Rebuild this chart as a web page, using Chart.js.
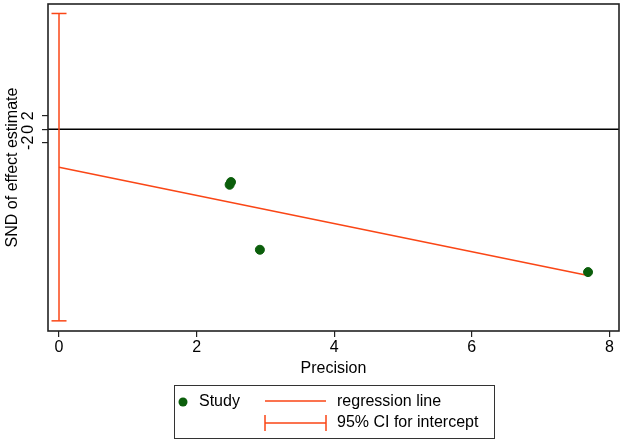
<!DOCTYPE html>
<html>
<head>
<meta charset="utf-8">
<script src="https://cdn.jsdelivr.net/npm/chart.js@4.4.1/dist/chart.umd.min.js"></script>
<style>
  html, body { margin: 0; padding: 0; background: #fff; }
  #wrap { width: 624px; height: 443px; }
</style>
</head>
<body>
<div id="wrap"><canvas id="galbraith"></canvas></div>
<script>
// values
const studyPrecision = [2.48, 2.50, 2.92, 7.69];
const studySND = [-8.2, -7.8, -17.8, -21.1];
const regLineX = [0, 7.69];
const regLineY = [-5.6, -21.6];
const ciIntercept = [-28.3, 17.1];
const xTicks = [0, 2, 4, 6, 8];
const yTicks = [-2, 0, 2];
const xRange = [-0.16, 8.14];
const yRange = [-29.8, 18.5];

const RED = "#fa4616";
const GREEN = "#0b5e0b";
const FONT = "'Liberation Sans', Arial, sans-serif";

const framePlugin = {
  id: "frameAndLegend",
  afterDraw(c) {
    const ctx = c.ctx;
    const a = c.chartArea;
    ctx.save();
    ctx.strokeStyle = "#222";
    ctx.lineWidth = 1.6;
    ctx.strokeRect(a.left, a.top, a.right - a.left, a.bottom - a.top);

    // legend box
    ctx.lineWidth = 1;
    ctx.strokeStyle = "#333";
    ctx.strokeRect(174.5, 385.5, 320, 53);
    ctx.font = "16px " + FONT;
    ctx.fillStyle = "#000";
    ctx.textBaseline = "middle";
    ctx.fillText("Study", 199, 402);
    ctx.fillText("regression line", 337, 402);
    ctx.fillText("95% CI for intercept", 337, 423);
    ctx.fillStyle = GREEN;
    ctx.beginPath();
    ctx.arc(183, 402, 4.5, 0, Math.PI * 2);
    ctx.fill();
    ctx.strokeStyle = RED;
    ctx.lineWidth = 1.5;
    ctx.beginPath();
    ctx.moveTo(265, 401); ctx.lineTo(326, 401);
    ctx.moveTo(265, 423); ctx.lineTo(326, 423);
    ctx.moveTo(265, 415); ctx.lineTo(265, 431);
    ctx.moveTo(326, 415); ctx.lineTo(326, 431);
    ctx.stroke();
    ctx.restore();
  }
};

new Chart(document.getElementById("galbraith"), {
  type: "scatter",
  data: {
    datasets: [
      {
        label: "Study",
        data: studyPrecision.map((x, i) => ({ x: x, y: studySND[i] })),
        backgroundColor: GREEN,
        borderColor: GREEN,
        pointRadius: 4.5,
        order: 0
      },
      {
        label: "95% CI for intercept",
        data: ciIntercept.map(y => ({ x: 0, y: y })),
        showLine: true,
        borderColor: RED,
        borderWidth: 1.5,
        pointStyle: "line",
        pointRadius: 7.5,
        pointBorderWidth: 1.5,
        pointBorderColor: RED,
        order: 1
      },
      {
        label: "regression line",
        data: regLineX.map((x, i) => ({ x: x, y: regLineY[i] })),
        showLine: true,
        borderColor: RED,
        borderWidth: 1.5,
        pointRadius: 0,
        order: 2
      },
      {
        label: "zero",
        data: xRange.map(x => ({ x: x, y: 0 })),
        showLine: true,
        borderColor: "#000",
        borderWidth: 1.5,
        pointRadius: 0,
        order: 3
      }
    ]
  },
  options: {
    responsive: true,
    maintainAspectRatio: false,
    animation: false,
    layout: { autoPadding: false, padding: { top: 4, right: 5, left: 0, bottom: 65 } },
    plugins: {
      legend: { display: false },
      tooltip: { enabled: false }
    },
    scales: {
      x: {
        type: "linear",
        min: xRange[0],
        max: xRange[1],
        afterBuildTicks: s => { s.ticks = xTicks.map(v => ({ value: v })); },
        afterFit: s => { s.height = 47; s.paddingLeft = 0; s.paddingRight = 0; },
        border: { display: false },
        grid: { drawOnChartArea: false, tickLength: 6, color: "#222", lineWidth: 1.2 },
        ticks: { color: "#000", font: { size: 16, family: FONT }, padding: 1, maxRotation: 0 },
        title: { display: true, text: "Precision", color: "#000", font: { size: 16, family: FONT }, padding: { top: 0, bottom: 0 } }
      },
      y: {
        type: "linear",
        min: yRange[0],
        max: yRange[1],
        afterBuildTicks: s => { s.ticks = yTicks.map(v => ({ value: v })); },
        afterFit: s => { s.width = 48; s.paddingTop = 0; s.paddingBottom = 0; },
        border: { display: false },
        grid: { drawOnChartArea: false, tickLength: 6, color: "#222", lineWidth: 1.2 },
        ticks: {
          color: "#000", font: { size: 16, family: FONT },
          minRotation: 90, maxRotation: 90, autoSkip: false,
          crossAlign: "center", padding: 6
        },
        title: { display: true, text: "SND of effect estimate", color: "#000", font: { size: 16, family: FONT }, padding: { top: 3, bottom: 0 } }
      }
    }
  },
  plugins: [framePlugin]
});
</script>
</body>
</html>
